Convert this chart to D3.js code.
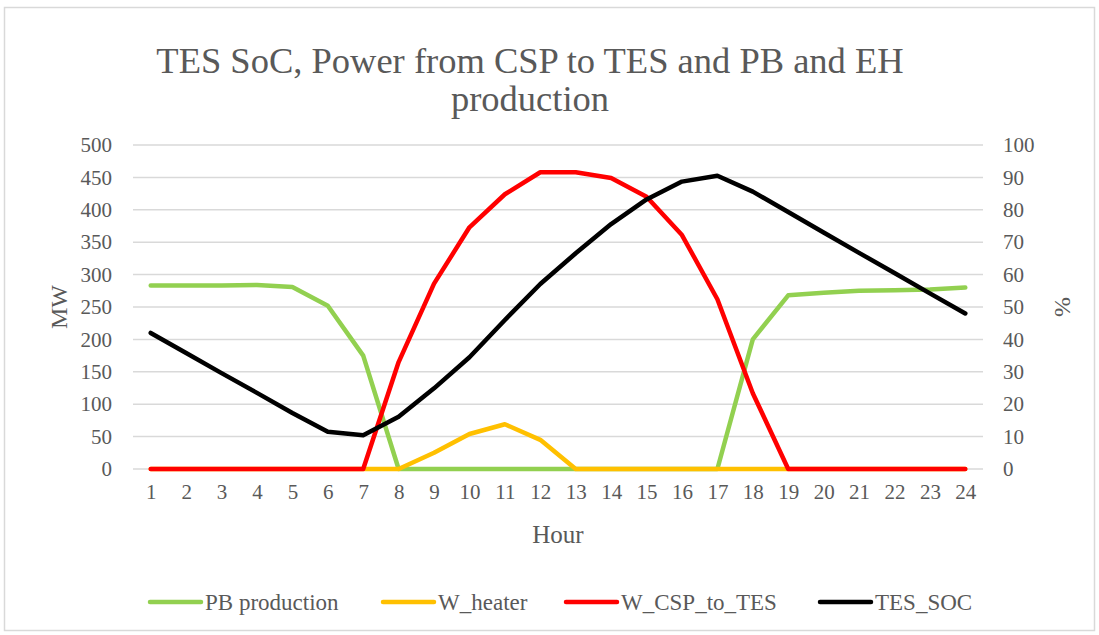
<!DOCTYPE html>
<html>
<head>
<meta charset="utf-8">
<script src="https://cdn.jsdelivr.net/npm/d3@7"></script>
<style>
  body { margin: 0; background: #fff; }
  svg text { font-family: "Liberation Serif", "DejaVu Serif", serif; fill: #595959; }
</style>
</head>
<body>
<div id="chart"></div>
<script>
// size of the page
var w = 1099;
var h = 635;

var hours = [1,2,3,4,5,6,7,8,9,10,11,12,13,14,15,16,17,18,19,20,21,22,23,24];
var pbProduction = [283,283,283,284,281,252,175,0,0,0,0,0,0,0,0,0,0,200,268,272,275,276,277,280];
var wHeater = [0,0,0,0,0,0,0,0,25,54,69,45,0,0,0,0,0,0,0,0,0,0,0,0];
var wCspToTes = [0,0,0,0,0,0,0,165,286,373,424,458,458,449,420,361,262,117,0,0,0,0,0,0];
var tesSoc = [42,35.8,29.6,23.5,17.3,11.5,10.4,16.1,24.9,34.5,46,57.1,66.6,75.6,83.2,88.7,90.5,85.6,79.3,73,66.7,60.5,54.2,48];
var leftTicks = [0,50,100,150,200,250,300,350,400,450,500];
var rightTicks = [0,10,20,30,40,50,60,70,80,90,100];

var seriesNames = ["PB production", "W_heater", "W_CSP_to_TES", "TES_SOC"];
var seriesColors = ["#92d050", "#ffc000", "#ff0000", "#000000"];

var plot = {left: 133, right: 983, top: 145, bottom: 469};
var fontFam = "'Liberation Serif', 'DejaVu Serif', serif";

var svg = d3.select("#chart").append("svg")
    .attr("width", w)
    .attr("height", h);

// chart border
svg.append("rect")
    .attr("x", 4.5).attr("y", 7.5)
    .attr("width", w - 9).attr("height", h - 12)
    .attr("fill", "#fff")
    .attr("stroke", "#d9d9d9")
    .attr("stroke-width", 1.5);

var xScale = d3.scalePoint()
    .domain(hours)
    .range([plot.left, plot.right])
    .padding(0.5);

var yLeft = d3.scaleLinear().domain([0, 500]).range([plot.bottom, plot.top]);
var yRight = d3.scaleLinear().domain([0, 100]).range([plot.bottom, plot.top]);

// gridlines
svg.append("g")
    .selectAll("line")
    .data(leftTicks)
    .enter()
    .append("line")
    .attr("x1", plot.left).attr("x2", plot.right)
    .attr("y1", function(d){ return yLeft(d); })
    .attr("y2", function(d){ return yLeft(d); })
    .attr("stroke", "#d9d9d9")
    .attr("stroke-width", 1.5);

function styleAxis(g) {
    g.attr("font-family", fontFam).attr("font-size", 21);
    g.select(".domain").remove();
    g.selectAll("text").attr("fill", "#595959");
}

// left axis
var gl = svg.append("g")
    .attr("transform", "translate(112,0)")
    .call(d3.axisLeft(yLeft).tickValues(leftTicks).tickSize(0).tickPadding(0));
styleAxis(gl);

// right axis
var gr = svg.append("g")
    .attr("transform", "translate(1003,0)")
    .call(d3.axisRight(yRight).tickValues(rightTicks).tickSize(0).tickPadding(0));
styleAxis(gr);

// bottom axis
var gb = svg.append("g")
    .attr("transform", "translate(0,484)")
    .call(d3.axisBottom(xScale).tickSize(0).tickPadding(0));
styleAxis(gb);

// lines
var leftLine = d3.line()
    .x(function(d, i){ return xScale(hours[i]); })
    .y(function(d){ return yLeft(d); });
var rightLine = d3.line()
    .x(function(d, i){ return xScale(hours[i]); })
    .y(function(d){ return yRight(d); });

var seriesData = [pbProduction, wHeater, wCspToTes, tesSoc];
seriesData.forEach(function(s, i) {
    svg.append("path")
        .datum(s)
        .attr("d", i == 3 ? rightLine : leftLine)
        .attr("fill", "none")
        .attr("stroke", seriesColors[i])
        .attr("stroke-width", 4.5)
        .attr("stroke-linejoin", "round")
        .attr("stroke-linecap", "round");
});

// title
var title = svg.append("text")
    .attr("text-anchor", "middle")
    .style("font-size", "36.5px");
title.append("tspan").attr("x", 530).attr("y", 73).text("TES SoC, Power from CSP to TES and PB and EH");
title.append("tspan").attr("x", 530).attr("y", 111).text("production");

// axis titles
svg.append("text")
    .attr("text-anchor", "middle")
    .attr("transform", "translate(67,307) rotate(-90)")
    .style("font-size", "24px")
    .text("MW");
svg.append("text")
    .attr("text-anchor", "middle")
    .attr("transform", "translate(1070,307) rotate(-90)")
    .style("font-size", "24px")
    .text("%");
svg.append("text")
    .attr("text-anchor", "middle")
    .attr("x", 558).attr("y", 543)
    .style("font-size", "25px")
    .text("Hour");

// legend
var legendX = [148, 381, 564, 818];
var legend = svg.append("g");
seriesNames.forEach(function(name, i) {
    legend.append("line")
        .attr("x1", legendX[i] + 2).attr("x2", legendX[i] + 53)
        .attr("y1", 602).attr("y2", 602)
        .attr("stroke", seriesColors[i])
        .attr("stroke-width", 4.5)
        .attr("stroke-linecap", "round");
    legend.append("text")
        .attr("x", legendX[i] + 57).attr("y", 610)
        .style("font-size", "23px")
        .text(name);
});
</script>
</body>
</html>
